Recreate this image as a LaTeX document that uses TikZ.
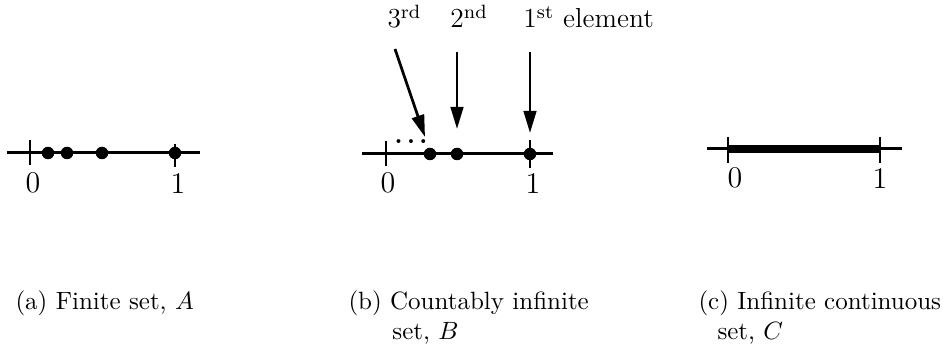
\documentclass[tikz,border=0pt]{standalone}
\usetikzlibrary{arrows.meta}
\tikzset{
  dot/.style={circle, fill=black, inner sep=0pt, minimum size=5pt},
  axis/.style={line width=1.2pt},
  tickmark/.style={line width=0.9pt},
  pointer/.style={line width=1.1pt, -{Triangle[length=8.8pt,width=5pt]}},
  numlabel/.style={font=\large, anchor=base, inner sep=0pt},
  toplabel/.style={font=\fontsize{11}{13}\selectfont, anchor=base west, inner sep=0pt},
  caption/.style={anchor=base west, align=left, inner sep=0pt}
}
\begin{document}
\begin{tikzpicture}[x=0.4pt, y=-0.4pt]
      \useasboundingbox (0,0) rectangle (943,346);

      % (a) finite set
      \begin{scope}[name prefix = a-]
         \coordinate (l) at (7,153);
         \coordinate (r) at (200,153);
         \coordinate (0) at (30,153);
         \coordinate (1) at (175,153);
         \draw[axis] (l) -- (r);
         \draw[tickmark] (0) ++(0,-13) -- ++(0,25);
         \draw[tickmark] (1) ++(0,-9) -- ++(0,23);
         \node[dot] (p1) at (48,153) {};
         \node[dot] (p2) at (67,153) {};
         \node[dot] (p3) at (102,153) {};
         \node[dot] (p4) at (1) {};
         \node[numlabel] (n0) at (33,193) {0};
         \node[numlabel] (n1) at (178,194) {1};
         \node[caption] (cap) at (15,310) {(a) Finite set, $A$};
      \end{scope}

      % (b) countably infinite set
      \begin{scope}[name prefix = b-]
         \coordinate (l) at (362,154);
         \coordinate (r) at (553,154);
         \coordinate (0) at (386,154);
         \coordinate (1) at (530,154);
         \draw[axis] (l) -- (r);
         \draw[tickmark] (0) ++(0,-13) -- ++(0,25);
         \draw[tickmark] (1) ++(0,-14) -- ++(0,28);
         \node[dot] (p1) at (1) {};
         \node[dot] (p2) at (457,154) {};
         \node[dot] (p3) at (430,154) {};
         \node[anchor=base, inner sep=0pt] (dots) at (411,144) {\bfseries .\hspace{1.8pt}.\hspace{1.8pt}.};
         \node[numlabel] (n0) at (388,193) {0};
         \node[numlabel] (n1) at (533,194) {1};
         \node[toplabel] (l3) at (387,28) {3\textsuperscript{rd}};
         \node[toplabel] (l2) at (450,28) {2\textsuperscript{nd}};
         \node[toplabel] (l1) at (523,28) {1\textsuperscript{st} element};
         \coordinate (s3) at (395,49);
         \coordinate (s2) at (457,52);
         \coordinate (s1) at (530,52);
         \coordinate (t3) at (425,137);
         \coordinate (t2) at (457,129);
         \coordinate (t1) at (530,133);
         \draw[pointer] (s3) -- (t3);
         \draw[pointer] (s2) -- (t2);
         \draw[pointer] (s1) -- (t1);
         \node[caption] (cap) at (348,340) {(b) Countably infinite\\ \hspace{17.6pt}set, $B$};
      \end{scope}

      % (c) infinite continuous set
      \begin{scope}[name prefix = c-]
         \coordinate (l) at (707,149);
         \coordinate (r) at (902,149);
         \coordinate (0) at (728,149);
         \coordinate (1) at (880,149);
         \draw[axis] (l) -- (r);
         \draw[line width=3.2pt] (0) -- (1);
         \draw[tickmark] (0) ++(0,-12) -- ++(0,26);
         \draw[tickmark] (1) ++(0,-12) -- ++(0,26);
         \node[numlabel] (n0) at (735,188) {0};
         \node[numlabel] (n1) at (880,189) {1};
         \node[caption] (cap) at (698,340) {(c) Infinite continuous\\ \hspace{7.6pt}set, $C$};
      \end{scope}
   \end{tikzpicture}
\end{document}
